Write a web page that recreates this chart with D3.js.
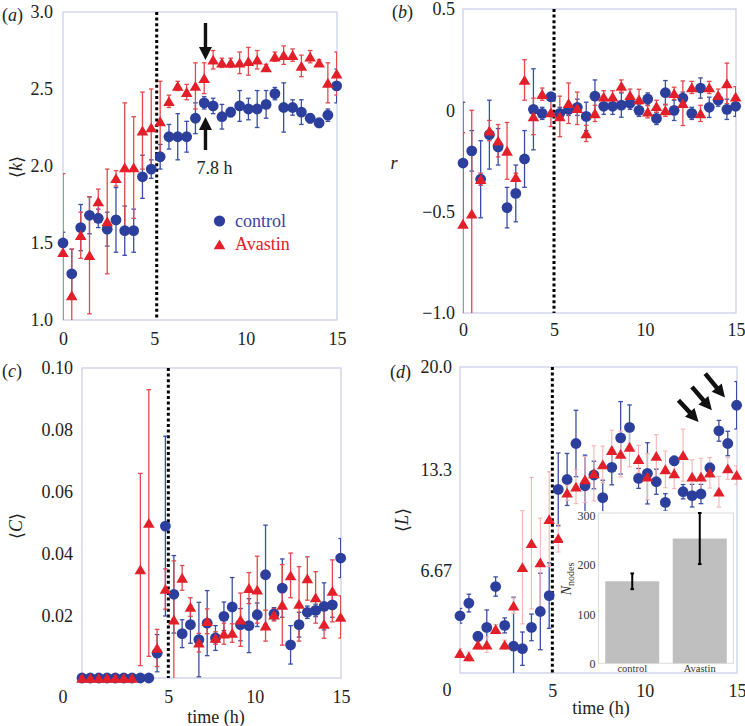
<!DOCTYPE html>
<html><head><meta charset="utf-8">
<script src="https://cdn.jsdelivr.net/npm/d3@7"></script>
<style>body{margin:0;background:#fff}</style>
</head><body>
<svg id="c" width="745" height="726" xmlns="http://www.w3.org/2000/svg"></svg>
<script>
// ---------- data ----------
const times = [0,0.48,0.97,1.45,1.93,2.42,2.9,3.38,3.87,4.35,4.83,5.32,5.8,6.28,6.77,7.25,7.73,8.22,8.7,9.18,9.67,10.15,10.63,11.12,11.6,12.08,12.57,13.05,13.53,14.02,14.5,14.98];
const seriesNames = ["control","Avastin"];

// (a) <k>
const kControl    = [1.50,1.30,1.60,1.68,1.66,1.59,1.65,1.58,1.58,1.93,1.98,2.06,2.19,2.19,2.19,2.31,2.41,2.39,2.32,2.35,2.39,2.37,2.37,2.40,2.47,2.38,2.38,2.35,2.31,2.28,2.33,2.52];
const kControlErr = [0.07,0.16,0.15,0.12,0.06,0.11,0.21,0.16,0.14,0.14,0.06,0.08,0.08,0.15,0.10,0.10,0.04,0.05,0.08,0.03,0.10,0.07,0.12,0.09,0.04,0.16,0.05,0.08,0.03,0.03,0.04,0.11];
const kAvastin    = [1.44,1.16,1.55,1.42,1.77,1.64,1.92,1.99,1.99,2.23,2.25,2.29,2.42,2.52,2.48,2.52,2.57,2.69,2.67,2.67,2.67,2.68,2.69,2.64,2.71,2.72,2.72,2.65,2.71,2.67,2.54,2.60];
const kAvastinErr = [0.51,0.30,0.15,0.38,0.08,0.34,0.05,0.42,0.33,0.25,0.25,0.26,0.04,0.03,0.05,0.15,0.10,0.06,0.03,0.03,0.07,0.09,0.06,0.02,0.03,0.06,0.04,0.07,0.04,0.02,0.13,0.14];

// (b) r
const rControl    = [-0.26,-0.20,-0.34,-0.12,-0.18,-0.48,-0.41,-0.24,0.005,-0.015,0.067,-0.015,0.005,0.015,-0.03,0.07,0.02,0.02,0.026,0.035,0.0,0.056,-0.04,0.087,0.0,0.06,-0.015,0.11,0.015,0.05,0.005,0.02];
const rControlErr = [0.30,0.10,0.19,0.17,0.09,0.10,0.14,0.14,0.20,0.03,0.02,0.03,0.03,0.04,0.07,0.08,0.04,0.04,0.06,0.03,0.03,0.03,0.03,0.06,0.05,0.03,0.03,0.05,0.05,0.03,0.05,0.05];
const rAvastin    = [-0.56,-0.51,-0.34,-0.10,-0.15,-0.20,-0.33,0.15,-0.03,0.08,-0.01,-0.03,0.035,0.01,-0.114,-0.015,0.067,0.067,0.12,0.075,0.054,-0.007,0.02,0.0,0.084,0.035,0.113,-0.015,0.113,0.075,0.133,0.067];
const rAvastinErr = [0.45,0.51,0.03,0.05,0.08,0.14,0.02,0.10,0.09,0.03,0.07,0.10,0.10,0.08,0.04,0.04,0.03,0.03,0.03,0.03,0.05,0.03,0.03,0.03,0.03,0.11,0.03,0.04,0.03,0.03,0.10,0.05];

// (c) <C>
const cControl    = [0,0,0,0,0,0,0,0,0,0.008,0.049,0.027,0.0143,0.0172,0.0124,0.0177,0.0129,0.0199,0.0229,0.0172,0.0169,0.0204,0.0333,0.0207,0.029,0.0107,0.0172,0.0212,0.0218,0.0231,0.0236,0.0387];
const cControlErr = [0,0,0,0,0,0,0,0,0,0.006,0.029,0.0125,0.0045,0.006,0.012,0.0105,0.004,0.0046,0.0095,0.0052,0.0087,0.0038,0.016,0.002,0.0094,0.0062,0.004,0.002,0.002,0.0076,0.004,0.0063];
const cAvastin    = [0,0,0,0,0,0,0,0.035,0.05,0.0097,0.0287,0.0188,0.0323,0.0229,0.0114,0.0183,0.0129,0.0143,0.0145,0.0188,0.029,0.0285,0.0169,0.0204,0.0236,0.0331,0.0239,0.0321,0.026,0.0174,0.0281,0.0197];
const cAvastinErr = [0,0,0,0,0,0,0,0.031,0.043,0.006,0.0065,0.019,0.004,0.003,0.003,0.004,0.002,0.0034,0.003,0.0086,0.005,0.0108,0.005,0.002,0.013,0.0072,0.012,0.007,0.0083,0.0046,0.01,0.0068];

// (d) <L>
const lControl    = [3.74,4.57,2.39,2.98,5.65,3.11,1.75,1.59,2.98,4.02,5.06,12.0,12.65,15.0,12.24,12.94,11.46,13.44,15.37,16.05,12.72,13.05,12.5,11.15,13.87,11.85,11.59,11.7,13.41,15.83,15.0,17.5];
const lControlErr = [0.48,0.58,0.3,1.14,0.63,0.49,3.2,1.09,0.87,2.5,2.14,2.38,1.7,2.17,2.0,0.9,1.14,1.14,2.37,1.47,0.65,2.0,0.82,0.57,0.3,0.47,0.74,0.63,0.3,0.68,0.8,1.55];
const lAvastin    = [1.30,1.08,1.85,1.85,2.87,1.85,4.4,6.91,8.48,7.22,10.05,8.81,11.78,12.17,12.65,13.05,13.63,14.57,14.31,14.78,13.98,12.83,14.18,13.31,13.05,14.24,12.83,12.83,13.09,11.85,13.37,12.94];
const lAvastinErr = [0.3,0.3,0.3,0.5,0.3,0.3,0.5,3.7,4.3,2.9,3.1,0.9,0.5,1.1,1.5,1.8,1.2,1.3,1.5,1.3,0.9,1.5,1.4,1.2,1.0,1.7,1.1,1.2,1.0,1.0,0.7,0.6];

// inset: number of nodes
const nodeCategories = ["control","Avastin"];
const nodeValues = [167, 254];
const nodeErr = [16, 52];
const nodeTicks = [0,100,200,300];

// axis ticks
const xTicksTop = [0,5,10,15];
const xTicksBottom = [5,10,15];
const kTicks = [1.0,1.5,2.0,2.5,3.0];   const kTickLabels = ["1.0","1.5","2.0","2.5","3.0"];
const rTicks = [-1.0,-0.5,0,0.5];       const rTickLabels = ["\u22121.0","\u22120.5","0","0.5"];
const cTicks = [0.02,0.04,0.06,0.08,0.10]; const cTickLabels = ["0.02","0.04","0.06","0.08","0.10"];
const lTicks = [6.67,13.3,20.0];        const lTickLabels = ["6.67","13.3","20.0"];

// ---------- drawing ----------
const svg = d3.select("#c");
const FONT = "'Liberation Serif','Times New Roman',Times,serif";
const BLUE = "#2c3f9d", BLUE_BAR = "#3b4ea6", RED = "#e3202a", RED_BAR = "#e2484c", RED_FAINT = "#f4b4b4", FRAME = "#c8cae6";
const defs = svg.append("defs");

function arrowPath(x1, y1, x2, y2, sw, hl, hw) {
  const dx = x2 - x1, dy = y2 - y1, L = Math.hypot(dx, dy);
  const ux = dx / L, uy = dy / L, px = -uy, py = ux;
  const bx = x2 - ux * hl, by = y2 - uy * hl;
  const pts = [
    [x1 + px * sw / 2, y1 + py * sw / 2], [bx + px * sw / 2, by + py * sw / 2],
    [bx + px * hw / 2, by + py * hw / 2], [x2, y2],
    [bx - px * hw / 2, by - py * hw / 2], [bx - px * sw / 2, by - py * sw / 2],
    [x1 - px * sw / 2, y1 - py * sw / 2]];
  return "M" + pts.map(p => p.join(",")).join("L") + "Z";
}

function panel(o) {
  const x = d3.scaleLinear().domain([0, 15]).range([o.x0, o.x1]);
  const y = d3.scaleLinear().domain(o.yDomain).range([o.y1, o.y0]);
  const g = svg.append("g");
  const cid = "clip-" + o.name;
  defs.append("clipPath").attr("id", cid).append("rect")
    .attr("x", o.x0).attr("y", o.y0).attr("width", o.x1 - o.x0).attr("height", o.y1 - o.y0);

  // frame
  g.append("rect").attr("x", o.x0).attr("y", o.y0).attr("width", o.x1 - o.x0).attr("height", o.y1 - o.y0)
    .attr("fill", "none").attr("stroke", FRAME).attr("stroke-width", 1.2);

  // axes (labels only, no tick marks)
  const ya = d3.axisLeft(y).tickValues(o.yTicks).tickFormat((d, i) => o.yLabels[i]).tickSize(0).tickPadding(o.yPad);
  g.append("g").attr("transform", `translate(${o.x0},0)`).call(ya)
    .call(s => s.select(".domain").remove())
    .attr("font-family", FONT).attr("font-size", 18)
    .selectAll("text").attr("fill", "#222");
  const xa = d3.axisBottom(x).tickValues(o.xTicks).tickFormat(d3.format("d")).tickSize(0).tickPadding(o.xPad);
  g.append("g").attr("transform", `translate(0,${o.y1})`).call(xa)
    .call(s => s.select(".domain").remove())
    .attr("font-family", FONT).attr("font-size", 18)
    .selectAll("text").attr("fill", "#222");
  if (o.corner) {
    g.append("text").attr("x", o.x0 + o.corner[0]).attr("y", o.y1 + o.corner[1])
      .attr("text-anchor", "middle").attr("dominant-baseline", "central")
      .attr("font-family", FONT).attr("font-size", 18).attr("fill", "#222").text("0");
  }

  // panel letter
  const pl = g.append("text").attr("x", o.letterPos[0]).attr("y", o.letterPos[1])
    .attr("dominant-baseline", "central").attr("font-family", FONT).attr("font-size", 18).attr("fill", "#222");
  pl.append("tspan").text("(");
  pl.append("tspan").attr("font-style", "italic").text(o.letter);
  pl.append("tspan").text(")");

  // y-axis title
  const yt = g.append("text").attr("font-family", FONT).attr("font-size", 18).attr("fill", "#222")
    .attr("text-anchor", "middle").attr("dominant-baseline", "central")
    .attr("transform", `translate(${o.ytPos[0]},${o.ytPos[1]})` + (o.ytRotate ? " rotate(-90)" : ""));
  if (o.ytBracket) {
    yt.append("tspan").attr("font-family", "'DejaVu Serif',serif").attr("font-size", 18).text("\u27E8");
    yt.append("tspan").attr("font-style", "italic").text(o.ytVar);
    yt.append("tspan").attr("font-family", "'DejaVu Serif',serif").attr("font-size", 18).text("\u27E9");
  } else {
    yt.append("tspan").attr("font-style", "italic").text(o.ytVar);
  }

  // dashed line
  g.append("line").attr("x1", x(o.dash)).attr("x2", x(o.dash)).attr("y1", o.y0).attr("y2", o.y1)
    .attr("stroke", "#000").attr("stroke-width", 3).attr("stroke-dasharray", "3,2.6");

  const barsG = g.append("g").attr("clip-path", `url(#${cid})`);
  function errorBars(vals, errs, color, width) {
    const d = vals.map((v, i) => ({ t: times[i], v, e: errs[i] })).filter(d => d.e > 0);
    const gg = barsG.append("g").attr("stroke", color).attr("stroke-width", width).attr("fill", "none");
    gg.selectAll("line.v").data(d).join("line").attr("class", "v")
      .attr("x1", d => x(d.t)).attr("x2", d => x(d.t)).attr("y1", d => y(d.v - d.e)).attr("y2", d => y(d.v + d.e));
    gg.selectAll("line.hi").data(d).join("line").attr("class", "hi")
      .attr("x1", d => x(d.t) - 2.3).attr("x2", d => x(d.t) + 2.3).attr("y1", d => y(d.v + d.e)).attr("y2", d => y(d.v + d.e));
    gg.selectAll("line.lo").data(d).join("line").attr("class", "lo")
      .attr("x1", d => x(d.t) - 2.3).attr("x2", d => x(d.t) + 2.3).attr("y1", d => y(d.v - d.e)).attr("y2", d => y(d.v - d.e));
  }
  errorBars(o.blue, o.blueErr, BLUE_BAR, 1.3);
  errorBars(o.red, o.redErr, o.faintRed ? RED_FAINT : RED_BAR, o.faintRed ? 1.1 : 1.3);

  const mk = g.append("g");
  mk.selectAll("circle").data(o.blue).join("circle")
    .attr("cx", (d, i) => x(times[i])).attr("cy", d => y(d)).attr("r", 5.4).attr("fill", BLUE);
  mk.selectAll("path").data(o.red).join("path")
    .attr("d", "M0,-5.6L5.8,4.2L-5.8,4.2Z")
    .attr("transform", (d, i) => `translate(${x(times[i])},${y(d) + 0.6})`).attr("fill", RED);

  o.g = g; o.x = x; o.y = y;
  return o;
}

const A = panel({ name: "a", letter: "a", x0: 63, x1: 337, y0: 12, y1: 320, yDomain: [1, 3],
  yTicks: kTicks, yLabels: kTickLabels, xTicks: xTicksTop, yPad: 10, xPad: 12, dash: 5.13,
  letterPos: [2, 15], ytPos: [16, 167], ytRotate: true, ytBracket: true, ytVar: "k",
  blue: kControl, blueErr: kControlErr, red: kAvastin, redErr: kAvastinErr });

const B = panel({ name: "b", letter: "b", x0: 463, x1: 736, y0: 9, y1: 313, yDomain: [-1, 0.5],
  yTicks: rTicks, yLabels: rTickLabels, xTicks: xTicksTop, yPad: 8, xPad: 10, dash: 5.0,
  letterPos: [392, 12], ytPos: [394, 163], ytRotate: false, ytBracket: false, ytVar: "r",
  blue: rControl, blueErr: rControlErr, red: rAvastin, redErr: rAvastinErr });

const C = panel({ name: "c", letter: "c", x0: 82, x1: 341, y0: 368, y1: 678, yDomain: [0, 0.1],
  yTicks: cTicks, yLabels: cTickLabels, xTicks: xTicksBottom, yPad: 9, xPad: 12, dash: 5.0,
  corner: [-19, 19],
  letterPos: [2, 371], ytPos: [16, 526], ytRotate: true, ytBracket: true, ytVar: "C",
  blue: cControl, blueErr: cControlErr, red: cAvastin, redErr: cAvastinErr });

const D = panel({ name: "d", letter: "d", x0: 460, x1: 737, y0: 367, y1: 673, yDomain: [0, 20],
  yTicks: lTicks, yLabels: lTickLabels, xTicks: xTicksBottom, yPad: 8, xPad: 11, dash: 5.0,
  corner: [-13, 17], faintRed: true,
  letterPos: [390, 372], ytPos: [402, 520], ytRotate: true, ytBracket: true, ytVar: "L",
  blue: lControl, blueErr: lControlErr, red: lAvastin, redErr: lAvastinErr });

// x-axis titles
[[C, 216, 717], [D, 601, 708]].forEach(([o, tx, ty]) => {
  svg.append("text").attr("x", tx).attr("y", ty).attr("text-anchor", "middle").attr("dominant-baseline", "central")
    .attr("font-family", FONT).attr("font-size", 18).attr("fill", "#222").text("time (h)");
});

// (a) annotations: arrows at 7.8 h
{
  const ax = A.x(7.8);
  A.g.append("path").attr("d", arrowPath(ax, 23, ax, 60, 3.4, 13, 13)).attr("fill", "#111");
  A.g.append("path").attr("d", arrowPath(ax, 150, ax, 117, 3.4, 13, 13)).attr("fill", "#111");
  A.g.append("text").attr("x", ax - 9).attr("y", 168).attr("dominant-baseline", "central")
    .attr("font-family", FONT).attr("font-size", 18).attr("fill", "#222").text("7.8 h");
  // legend
  const lg = A.g.append("g").attr("font-family", FONT).attr("font-size", 18);
  lg.append("circle").attr("cx", 219.5).attr("cy", 221).attr("r", 5.6).attr("fill", BLUE);
  lg.append("text").attr("x", 235).attr("y", 221).attr("dominant-baseline", "central").attr("fill", "#3545a5").text(seriesNames[0]);
  lg.append("path").attr("d", "M0,-5.6L5.8,4.2L-5.8,4.2Z").attr("transform", "translate(219.5,245)").attr("fill", RED);
  lg.append("text").attr("x", 235).attr("y", 244).attr("dominant-baseline", "central").attr("fill", RED).text(seriesNames[1]);
}

// (d) inset
{
  D.g.append("rect").attr("x", 563).attr("y", 511).attr("width", 173).attr("height", 161).attr("fill", "#fff");
  const ix = d3.scaleBand().domain(nodeCategories).range([598.5, 733.5]).paddingInner(0.2).paddingOuter(0.1);
  const iy = d3.scaleLinear().domain([0, 306]).range([663.3, 513]);
  const ig = D.g.append("g");
  ig.append("rect").attr("x", 598.5).attr("y", 513).attr("width", 135).attr("height", 150.3)
    .attr("fill", "none").attr("stroke", "#dcdcdc").attr("stroke-width", 1);
  ig.selectAll("rect.bar").data(nodeValues).join("rect").attr("class", "bar")
    .attr("x", (d, i) => ix(nodeCategories[i])).attr("width", ix.bandwidth())
    .attr("y", d => iy(d)).attr("height", d => iy(0) - iy(d)).attr("fill", "#bfbfbf");
  const eg = ig.append("g").attr("stroke", "#000").attr("stroke-width", 2);
  nodeValues.forEach((v, i) => {
    const cx = ix(nodeCategories[i]) + ix.bandwidth() / 2;
    eg.append("line").attr("x1", cx).attr("x2", cx).attr("y1", iy(v - nodeErr[i])).attr("y2", iy(v + nodeErr[i]));
    eg.append("line").attr("x1", cx - 1.8).attr("x2", cx + 1.8).attr("y1", iy(v - nodeErr[i])).attr("y2", iy(v - nodeErr[i]));
    eg.append("line").attr("x1", cx - 1.8).attr("x2", cx + 1.8).attr("y1", iy(v + nodeErr[i])).attr("y2", iy(v + nodeErr[i]));
  });
  ig.append("g").attr("transform", "translate(598.5,0)")
    .call(d3.axisLeft(iy).tickValues(nodeTicks).tickSize(0).tickPadding(3))
    .call(s => s.select(".domain").remove())
    .attr("font-family", FONT).attr("font-size", 12).selectAll("text").attr("fill", "#333");
  ig.append("g").attr("transform", "translate(0,663.3)")
    .call(d3.axisBottom(ix).tickSize(0).tickPadding(1))
    .call(s => s.select(".domain").remove())
    .attr("font-family", FONT).attr("font-size", 10.5).selectAll("text").attr("fill", "#333");
  const nl = ig.append("text").attr("transform", "translate(571,579) rotate(-90)")
    .attr("text-anchor", "middle").attr("font-family", FONT).attr("fill", "#333");
  nl.append("tspan").attr("font-style", "italic").attr("font-size", 14).text("N");
  nl.append("tspan").attr("font-size", 10).attr("dy", 3).text("nodes");

  // arrows pointing at the late control points
  const arrows = [[11.83, 17.83, 12.92, 16.41], [12.56, 18.7, 13.64, 17.18], [13.28, 19.57, 14.35, 18.0]];
  arrows.forEach(a => {
    D.g.append("path").attr("d", arrowPath(D.x(a[0]), D.y(a[1]), D.x(a[2]), D.y(a[3]), 4.5, 13, 13)).attr("fill", "#111");
  });
}
</script>
</body></html>
